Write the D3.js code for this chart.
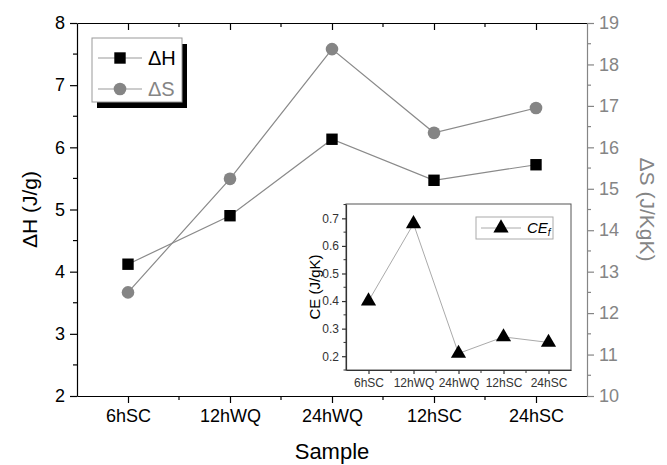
<!DOCTYPE html>
<html>
<head>
<meta charset="utf-8">
<script src="https://cdn.jsdelivr.net/npm/d3@7.9.0/dist/d3.min.js"></script>
<style>
  html, body { margin: 0; padding: 0; background: #fff; }
  svg { display: block; font-family: "Liberation Sans", Arial, sans-serif; }
</style>
</head>
<body>
<svg id="chart" width="667" height="465"></svg>
<script>
// data
const samples = ["6hSC", "12hWQ", "24hWQ", "12hSC", "24hSC"];
const deltaH = [4.12, 4.90, 6.13, 5.47, 5.72];      // J/g, left axis
const deltaS = [12.50, 15.24, 18.37, 16.35, 16.95]; // J/KgK, right axis
const ceF = [0.40, 0.68, 0.21, 0.27, 0.25];         // J/gK, inset

const hTicks = [2, 3, 4, 5, 6, 7, 8];
const sTicks = [10, 11, 12, 13, 14, 15, 16, 17, 18, 19];
const ceTicks = [0.2, 0.3, 0.4, 0.5, 0.6, 0.7];

const grey = "#858585";
const svg = d3.select("#chart");

// main plot area
const plot = { left: 77, right: 587, top: 23, bottom: 396 };

const x = d3.scalePoint().domain(samples).range([plot.left, plot.right]).padding(0.5);
const yH = d3.scaleLinear().domain([2, 8]).range([plot.bottom, plot.top]);
const yS = d3.scaleLinear().domain([10, 19]).range([plot.bottom, plot.top]);

// minor x positions halfway between samples
const step = x.step();
const xMinor = samples.slice(0, -1).map(s => x(s) + step / 2);

function styleAxis(g, color, size) {
    g.select(".domain").attr("stroke", color).attr("stroke-width", 1.2);
    g.selectAll(".tick line").attr("stroke", color).attr("stroke-width", 1.2);
    g.selectAll(".tick text").attr("fill", color).attr("font-size", size);
}

// bottom axis
const xAxis = svg.append("g").attr("transform", `translate(0,${plot.bottom})`)
    .call(d3.axisBottom(x).tickSize(7).tickSizeOuter(0).tickPadding(6));
styleAxis(xAxis, "#000", 18);
xAxis.selectAll("line.minor").data(xMinor).enter().append("line")
    .attr("x1", d => d).attr("x2", d => d).attr("y1", 0).attr("y2", 4)
    .attr("stroke", "#000").attr("stroke-width", 1.2);

// top frame with inward ticks
const topAxis = svg.append("g").attr("transform", `translate(0,${plot.top})`)
    .call(d3.axisBottom(x).tickSize(7).tickSizeOuter(0).tickFormat(""));
styleAxis(topAxis, "#000", 0);
topAxis.selectAll("line.minor").data(xMinor).enter().append("line")
    .attr("x1", d => d).attr("x2", d => d).attr("y1", 0).attr("y2", 4)
    .attr("stroke", "#000").attr("stroke-width", 1.2);

// left axis (delta H)
const leftAxis = svg.append("g").attr("transform", `translate(${plot.left},0)`)
    .call(d3.axisLeft(yH).tickValues(hTicks).tickFormat(d3.format("d")).tickSize(7).tickSizeOuter(0).tickPadding(5));
styleAxis(leftAxis, "#000", 18);
leftAxis.selectAll("line.minor").data(hTicks.slice(0, -1).map(v => v + 0.5)).enter().append("line")
    .attr("y1", d => yH(d)).attr("y2", d => yH(d)).attr("x1", 0).attr("x2", -4)
    .attr("stroke", "#000").attr("stroke-width", 1.2);

// right axis (delta S)
const rightAxis = svg.append("g").attr("transform", `translate(${plot.right},0)`)
    .call(d3.axisRight(yS).tickValues(sTicks).tickFormat(d3.format("d")).tickSize(7).tickSizeOuter(0).tickPadding(5));
styleAxis(rightAxis, grey, 18);
rightAxis.selectAll("line.minor").data(sTicks.slice(0, -1).map(v => v + 0.5)).enter().append("line")
    .attr("y1", d => yS(d)).attr("y2", d => yS(d)).attr("x1", 0).attr("x2", 4)
    .attr("stroke", grey).attr("stroke-width", 1.2);

// axis titles
svg.append("text").attr("x", (plot.left + plot.right) / 2).attr("y", 459)
    .attr("text-anchor", "middle").attr("font-size", 22).text("Sample");
svg.append("text").attr("transform", `translate(37,${(plot.top + plot.bottom) / 2}) rotate(-90)`)
    .attr("text-anchor", "middle").attr("font-size", 21).text("ΔH (J/g)");
svg.append("text").attr("transform", `translate(640,${(plot.top + plot.bottom) / 2}) rotate(90)`)
    .attr("text-anchor", "middle").attr("font-size", 21).attr("fill", grey).text("ΔS (J/KgK)");

// series lines
const lineH = d3.line().x((d, i) => x(samples[i])).y(d => yH(d));
const lineS = d3.line().x((d, i) => x(samples[i])).y(d => yS(d));
svg.append("path").datum(deltaH).attr("d", lineH).attr("fill", "none").attr("stroke", "#8a8a8a").attr("stroke-width", 1.2);
svg.append("path").datum(deltaS).attr("d", lineS).attr("fill", "none").attr("stroke", "#8a8a8a").attr("stroke-width", 1.2);

const squareSym = d3.symbol().type(d3.symbolSquare).size(130);
const circleSym = d3.symbol().type(d3.symbolCircle).size(125);
const triSym = d3.symbol().type(d3.symbolTriangle).size(100);

svg.selectAll("path.mh").data(deltaH).enter().append("path").attr("class", "mh")
    .attr("d", squareSym).attr("transform", (d, i) => `translate(${x(samples[i])},${yH(d)})`).attr("fill", "#000");
svg.selectAll("path.ms").data(deltaS).enter().append("path").attr("class", "ms")
    .attr("d", circleSym).attr("transform", (d, i) => `translate(${x(samples[i])},${yS(d)})`).attr("fill", grey);

// main legend with drop shadow
const leg = svg.append("g");
leg.append("rect").attr("x", 97).attr("y", 44).attr("width", 90).attr("height", 64).attr("fill", "#000");
leg.append("rect").attr("x", 92).attr("y", 38).attr("width", 90).attr("height", 64)
    .attr("fill", "#fff").attr("stroke", "#999").attr("stroke-width", 1);
[["ΔH", squareSym, "#000", "#000", 58], ["ΔS", circleSym, grey, grey, 89]].forEach(([label, sym, mfill, tfill, yy]) => {
    leg.append("line").attr("x1", 98).attr("x2", 142).attr("y1", yy).attr("y2", yy).attr("stroke", "#999").attr("stroke-width", 1);
    leg.append("path").attr("d", sym).attr("transform", `translate(120,${yy})`).attr("fill", mfill);
    leg.append("text").attr("x", 148).attr("y", yy + 7).attr("font-size", 20).attr("fill", tfill).text(label);
});

// inset
const inset = { left: 346, right: 571, top: 204, bottom: 370 };
svg.append("rect").attr("x", inset.left).attr("y", inset.top)
    .attr("width", inset.right - inset.left).attr("height", inset.bottom - inset.top)
    .attr("fill", "#fff").attr("stroke", "#555").attr("stroke-width", 1);

const xi = d3.scalePoint().domain(samples).range([inset.left, inset.right]).padding(0.5);
const yi = d3.scaleLinear().domain([0.15, 0.752]).range([inset.bottom, inset.top]);

const xiAxis = svg.append("g").attr("transform", `translate(0,${inset.bottom})`)
    .call(d3.axisBottom(xi).tickSize(4).tickSizeOuter(0).tickPadding(4));
styleAxis(xiAxis, "#333", 12);
xiAxis.selectAll("line.minor").data(samples.slice(0, -1).map(s => xi(s) + xi.step() / 2)).enter().append("line")
    .attr("x1", d => d).attr("x2", d => d).attr("y1", 0).attr("y2", 3)
    .attr("stroke", "#333").attr("stroke-width", 1);

const yiAxis = svg.append("g").attr("transform", `translate(${inset.left},0)`)
    .call(d3.axisLeft(yi).tickValues(ceTicks).tickFormat(d3.format(".1f")).tickSize(4).tickSizeOuter(0).tickPadding(3));
styleAxis(yiAxis, "#333", 12);
yiAxis.selectAll("line.minor").data(ceTicks.map(v => v - 0.05).concat([0.75])).enter().append("line")
    .attr("y1", d => yi(d)).attr("y2", d => yi(d)).attr("x1", 0).attr("x2", -2.5)
    .attr("stroke", "#333").attr("stroke-width", 1);

svg.append("text").attr("transform", `translate(320,${(inset.top + inset.bottom) / 2}) rotate(-90)`)
    .attr("text-anchor", "middle").attr("font-size", 15).text("CE (J/gK)");

const lineCE = d3.line().x((d, i) => xi(samples[i])).y(d => yi(d));
svg.append("path").datum(ceF).attr("d", lineCE).attr("fill", "none").attr("stroke", "#aaa").attr("stroke-width", 1);
svg.selectAll("path.mc").data(ceF).enter().append("path").attr("class", "mc")
    .attr("d", triSym).attr("transform", (d, i) => `translate(${xi(samples[i])},${yi(d)})`).attr("fill", "#000");

// inset legend
const il = svg.append("g");
il.append("rect").attr("x", 476).attr("y", 217).attr("width", 77).attr("height", 22)
    .attr("fill", "#fff").attr("stroke", "#aaa").attr("stroke-width", 1);
il.append("line").attr("x1", 481).attr("x2", 521).attr("y1", 228).attr("y2", 228).attr("stroke", "#aaa").attr("stroke-width", 1);
il.append("path").attr("d", triSym).attr("transform", "translate(501,228)").attr("fill", "#000");
const ilt = il.append("text").attr("x", 527).attr("y", 233).attr("font-size", 15).attr("font-style", "italic");
ilt.append("tspan").text("CE");
ilt.append("tspan").attr("font-size", 10).attr("dy", 3).text("f");
</script>
</body>
</html>
